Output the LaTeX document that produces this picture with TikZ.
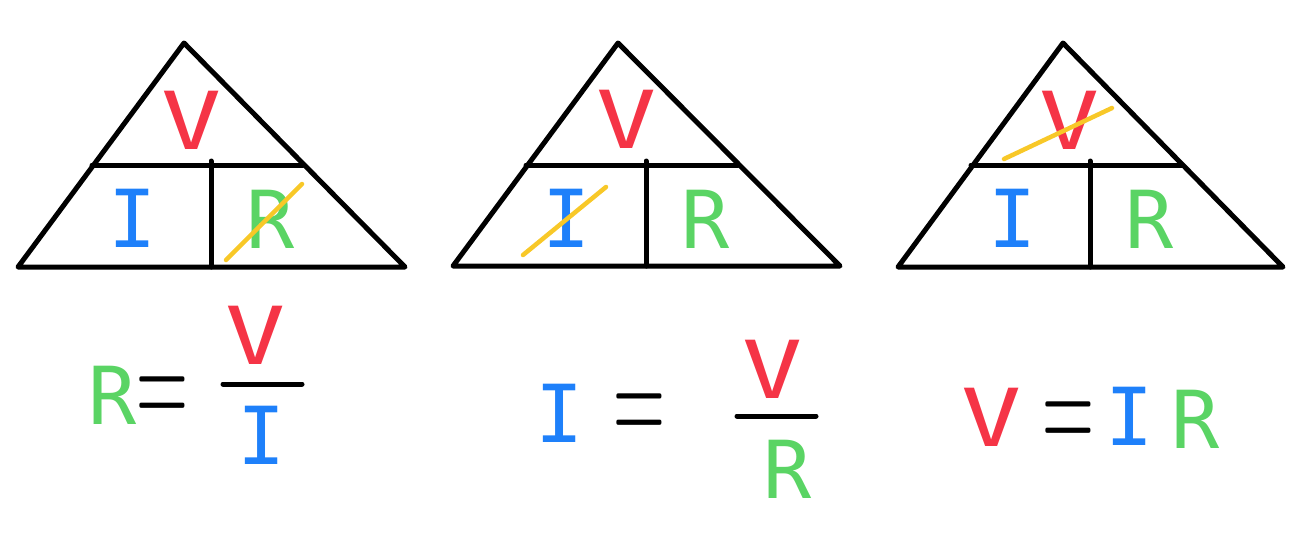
\documentclass[tikz,border=0pt]{standalone}
\usepackage{fontspec}
\usepackage{graphicx}
\usepackage{tikz}
\newfontfamily\handfont{DejaVu Sans Mono}
\definecolor{vred}{RGB}{245,52,70}
\definecolor{iblue}{RGB}{30,128,250}
\definecolor{rgreen}{RGB}{90,212,100}
\definecolor{strike}{RGB}{248,200,40}
\newcommand{\eqsign}{\scalebox{0.9}[1.85]{=}}
\newcommand{\wideV}{\scalebox{1.25}[1]{V}}
\tikzset{
  ltr/.style={inner sep=0pt, font=\handfont\fontsize{80}{80}\selectfont},
  vltr/.style={ltr, text=vred},
  iltr/.style={ltr, text=iblue},
  rltr/.style={ltr, text=rgreen},
  eqs/.style={inner sep=0pt, yshift=-10pt, font=\fontsize{80}{80}\selectfont},
  tri/.style={line width=5pt, line join=round, line cap=round},
  cross/.style={strike, line width=4.5pt, line cap=round}
}

\begin{document}
\begin{tikzpicture}[x=1pt,y=-1pt]
    \useasboundingbox (0,0) rectangle (1308,547);

    % Triangle for R
    \draw[tri] (184,43) -- (405,267) -- (18,267) -- cycle;
    \draw[tri] (92,165) -- (303,165);
    \draw[tri] (211,161) -- (211,267);
    \node[vltr] (v1) at (192,120) {\wideV};
    \node[iltr] (i1) at (133,218) {I};
    \node[rltr] (r1) at (271,219) {R};
    \draw[cross] (226,260) -- (302,184);

    % Triangle for I
    \draw[tri] (618,43) -- (840,266) -- (453,266) -- cycle;
    \draw[tri] (526,165) -- (738,165);
    \draw[tri] (646,161) -- (646,266);
    \node[vltr] (v2) at (627,119) {\wideV};
    \node[iltr] (i2) at (567,218) {I};
    \node[rltr] (r2) at (706,219) {R};
    \draw[cross] (523,255) -- (606,187);

    % Triangle for V
    \draw[tri] (1063,43) -- (1283,267) -- (898,267) -- cycle;
    \draw[tri] (971,165) -- (1182,165);
    \draw[tri] (1090,161) -- (1090,267);
    \node[vltr] (v3) at (1070,120) {\wideV};
    \node[iltr] (i3) at (1013,218) {I};
    \node[rltr] (r3) at (1150,219) {R};
    \draw[cross] (1004,159) -- (1112,108);

    % R = V/I
    \node[rltr] (r4) at (113,395) {R};
    \node[eqs] (e4) at (162,393) {\eqsign};
    \node[vltr] (v4) at (256,335) {\wideV};
    \node[iltr] (i4) at (262,435) {I};
    \draw[tri] (223,384) -- (302,384);

    % I = V/R
    \node[iltr] (i5) at (560,413) {I};
    \node[eqs] (e5) at (639,410) {\eqsign};
    \node[vltr] (v5) at (773,369) {\wideV};
    \node[rltr] (r5) at (788,469) {R};
    \draw[tri] (737,416) -- (816,416);

    % V = IR
    \node[vltr] (v6) at (992,417) {\wideV};
    \node[eqs] (e6) at (1068,418) {\eqsign};
    \node[iltr] (i6) at (1130,416) {I};
    \node[rltr] (r6) at (1196,419) {R};

\end{tikzpicture}
\end{document}
